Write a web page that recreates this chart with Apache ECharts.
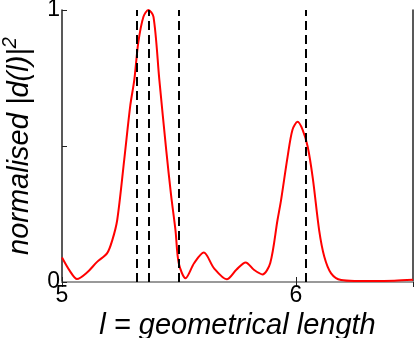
<!DOCTYPE html>
<html><head><meta charset="utf-8">
<script src="https://cdn.jsdelivr.net/npm/echarts@6/dist/echarts.min.js"></script>
<style>html,body{margin:0;padding:0;background:#fff}#c{width:415px;height:338px}</style>
</head><body><div id="c"></div>
<script>
const lengths = [5.000,5.034,5.064,5.107,5.150,5.193,5.215,5.236,5.266,5.292,5.309,5.326,5.348,5.369,5.391,5.416,5.446,5.466,5.485,5.499,5.528,5.565,5.606,5.650,5.704,5.745,5.785,5.820,5.857,5.890,5.921,5.936,5.964,5.985,6.007,6.028,6.050,6.072,6.099,6.121,6.150,6.193,6.250,6.330,6.420,6.500];
const power   = [0.090,0.040,0.011,0.035,0.074,0.106,0.154,0.228,0.450,0.650,0.743,0.880,0.975,1.000,0.975,0.743,0.480,0.320,0.190,0.069,0.014,0.070,0.108,0.050,0.010,0.045,0.072,0.045,0.028,0.070,0.228,0.300,0.460,0.560,0.589,0.560,0.497,0.380,0.190,0.093,0.032,0.007,0.004,0.004,0.005,0.008];
const markers = [5.322,5.373,5.498,6.039];
const xTicks = [5,6];
const yTicks = [0,1];

const chart = echarts.init(document.getElementById('c'));
const font = '"Liberation Sans", Arial, sans-serif';
chart.setOption({
  animation:false,
  grid:{left:62,right:2,top:10,bottom:56,containLabel:false,outerBoundsMode:'none'},
  xAxis:[{
    type:'value',min:5,max:6.5,interval:1,
    axisLine:{lineStyle:{color:'#222',width:1.5}},
    axisTick:{inside:true,length:5,lineStyle:{color:'#222'}},
    splitLine:{show:false},
    axisLabel:{fontFamily:font,fontSize:23,color:'#000',margin:2,showMaxLabel:false,
      formatter:v=>xTicks.includes(v)?String(v):''},
    name:'l = geometrical length',nameLocation:'middle',nameGap:22,
    nameTextStyle:{fontFamily:font,fontSize:29,fontStyle:'italic',color:'#000'}
  },{
    type:'value',position:'top',min:5,max:6.5,interval:1,
    axisLine:{show:true,lineStyle:{color:'#999',width:2}},
    axisTick:{inside:true,length:5,lineStyle:{color:'#222'}},
    axisLabel:{show:false},splitLine:{show:false}
  }],
  yAxis:[{
    type:'value',min:0,max:1,interval:0.5,
    axisLine:{show:true,lineStyle:{color:'#222',width:1.5}},
    axisTick:{show:true,inside:true,length:5,lineStyle:{color:'#222'}},
    splitLine:{show:false},
    axisLabel:{fontFamily:font,fontSize:23,color:'#000',margin:2,
      formatter:v=>yTicks.includes(v)?String(v):''},
    name:'{a|normalised |d(l)|}{s|2}',nameLocation:'middle',nameGap:22,
    nameTextStyle:{rich:{
      a:{fontFamily:font,fontSize:29,fontStyle:'italic',color:'#000'},
      s:{fontFamily:font,fontSize:20,fontStyle:'italic',color:'#000',verticalAlign:'top',padding:[0,0,20,0]}
    }}
  },{
    type:'value',position:'right',min:0,max:1,interval:0.5,
    axisLine:{show:true,lineStyle:{color:'#222',width:1.5}},
    axisTick:{show:false},axisLabel:{show:false},splitLine:{show:false}
  }],
  series:[{
    type:'line',data:lengths.map((x,i)=>[x,power[i]]),
    smooth:0.3,showSymbol:false,
    lineStyle:{color:'#ff0000',width:2},
    markLine:{symbol:'none',silent:true,label:{show:false},
      lineStyle:{color:'#000',type:[9,5],width:2},
      data:markers.map(v=>({xAxis:v}))}
  }]
});
</script></body></html>
